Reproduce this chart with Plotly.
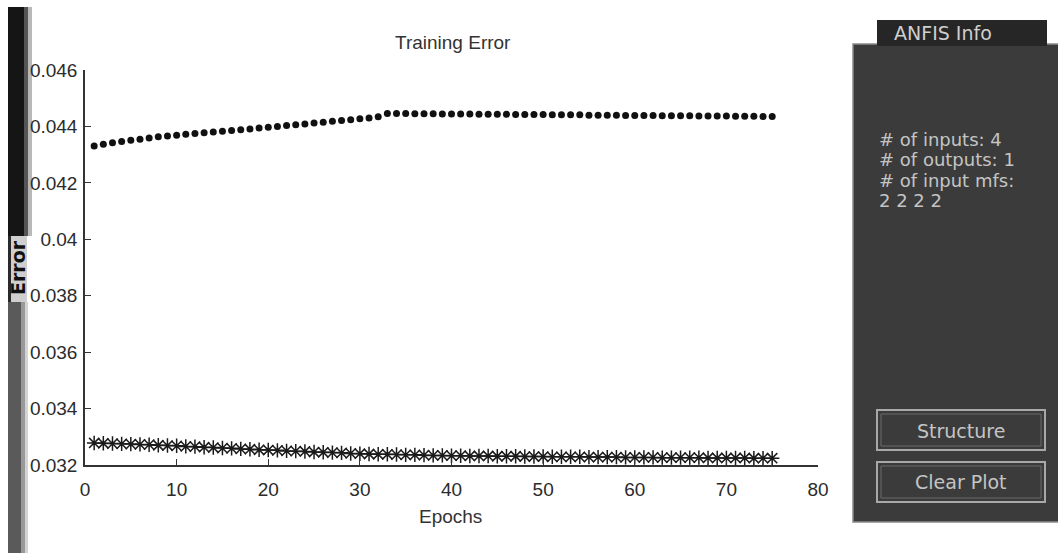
import plotly.graph_objects as go

# ---------------- data ----------------
epochs = list(range(1, 76))

# upper series (dots)
error_dots = [
    0.04331, 0.04337, 0.04342, 0.04347, 0.04351, 0.04355, 0.04359, 0.04363, 0.04366, 0.04369,
    0.04372, 0.04375, 0.04378, 0.04380, 0.04383, 0.04386, 0.04388, 0.04391, 0.04394, 0.04397,
    0.04400, 0.04403, 0.04406, 0.04409, 0.04412, 0.04415, 0.04418, 0.04421, 0.04424, 0.04427,
    0.04430, 0.04434, 0.04446, 0.04446, 0.04446, 0.04445, 0.04445, 0.04445, 0.04444,
    0.04444, 0.04444, 0.04444, 0.04443, 0.04443, 0.04443, 0.04443, 0.04442, 0.04442, 0.04442,
    0.04442, 0.04441, 0.04441, 0.04441, 0.04441, 0.04440, 0.04440, 0.04440, 0.04440, 0.04439,
    0.04439, 0.04439, 0.04439, 0.04438, 0.04438, 0.04438, 0.04438, 0.04437, 0.04437, 0.04437,
    0.04437, 0.04436, 0.04436, 0.04436, 0.04435, 0.04435,
]

# lower series (asterisks)
error_stars = [
    0.03278, 0.03277, 0.03276, 0.03275, 0.03274, 0.03273, 0.03272, 0.03270, 0.03269, 0.03268,
    0.03266, 0.03265, 0.03263, 0.03262, 0.03260, 0.03259, 0.03257, 0.03256, 0.03254, 0.03253,
    0.03252, 0.03250, 0.03249, 0.03248, 0.03246, 0.03245, 0.03244, 0.03243, 0.03241, 0.03240,
    0.03239, 0.03238, 0.03238, 0.03237, 0.03236, 0.03236, 0.03235, 0.03234, 0.03234, 0.03233,
    0.03233, 0.03232, 0.03232, 0.03232, 0.03231, 0.03231, 0.03231, 0.03230, 0.03230, 0.03230,
    0.03229, 0.03229, 0.03229, 0.03229, 0.03228, 0.03228, 0.03228, 0.03228, 0.03227, 0.03227,
    0.03227, 0.03227, 0.03226, 0.03226, 0.03226, 0.03226, 0.03226, 0.03225, 0.03225, 0.03225,
    0.03225, 0.03225, 0.03224, 0.03224, 0.03224,
]

x_ticks = [0, 10, 20, 30, 40, 50, 60, 70, 80]
y_ticks = [0.032, 0.034, 0.036, 0.038, 0.04, 0.042, 0.044, 0.046]
y_tick_text = ["0.032", "0.034", "0.036", "0.038", "0.04", "0.042", "0.044", "0.046"]

title_text = "Training Error"
x_title = "Epochs"
y_title = "Error"
panel_title = "ANFIS Info"
panel_lines = ["# of inputs: 4", "# of outputs: 1", "# of input mfs:", "2 2 2 2"]
button_labels = ["Structure", "Clear Plot"]

# ---------------- layout geometry (pixels) ----------------
W, H = 1058, 553
L, R, T, B = 85, 818, 70, 465


def px(xp, yp):
    return (xp - L) / (R - L), (B - yp) / (B - T)


fig = go.Figure()
fig.add_trace(go.Scatter(
    x=epochs, y=error_dots, mode="markers",
    marker=dict(symbol="circle", size=7, color="#111111"),
    hoverinfo="x+y", showlegend=False,
))
fig.add_trace(go.Scatter(
    x=epochs, y=error_stars, mode="markers",
    marker=dict(symbol="asterisk-open", size=12, color="#1a1a1a",
                line=dict(color="#1a1a1a", width=1.5)),
    hoverinfo="x+y", showlegend=False,
))

shapes = []
annotations = []


def rect(x0, y0, x1, y1, fill, line_color=None, line_width=0, layer="below"):
    a0, b0 = px(x0, y1)
    a1, b1 = px(x1, y0)
    shapes.append(dict(
        type="rect", xref="paper", yref="paper", x0=a0, x1=a1, y0=b0, y1=b1,
        fillcolor=fill, layer=layer,
        line=dict(color=line_color or "rgba(0,0,0,0)", width=line_width),
    ))


# scan shadow strip on the left edge
rect(8, 7, 24, 236, "#151515")
rect(24, 7, 28, 236, "#555555")
rect(28, 7, 32, 236, "#b8b8b8")
rect(8, 236, 11, 302, "#2a2a2a")
rect(11, 236, 27, 302, "#cfcfcf")
rect(8, 302, 21, 553, "#5a5a5a")
rect(21, 302, 25, 553, "#999999")
rect(25, 302, 28, 553, "#d4d4d4")

# ANFIS info panel
rect(853, 44, 1062, 522, "#3b3b3b", "#8a8a8a", 1.5, layer="above")
rect(877, 20, 1047, 46, "#262626", None, 0, layer="above")
# buttons
for (y0, y1) in [(410, 450), (462, 502)]:
    rect(877, y0, 1045, y1, "#3b3b3b", "#a8a8a8", 2, layer="above")
    rect(881, y0 + 4, 1041, y1 - 4, "rgba(0,0,0,0)", "#6a6a6a", 1, layer="above")


def text(xp, yp, s, size, color, family="Liberation Sans", xanchor="center", angle=0, bold=False):
    a, b = px(xp, yp)
    annotations.append(dict(
        x=a, y=b, xref="paper", yref="paper", text=("<b>%s</b>" % s) if bold else s,
        showarrow=False, xanchor=xanchor, yanchor="middle", textangle=angle,
        font=dict(size=size, color=color, family=family),
    ))


text(453, 42, title_text, 19, "#333333")
text(450, 516, x_title, 19, "#333333")
text(18, 268, y_title, 19, "#111111", family="DejaVu Sans", angle=-90, bold=True)

text(943, 33, panel_title, 19, "#cfcfcf", family="DejaVu Sans")
for i, s in enumerate(panel_lines):
    text(877, 139 + 20.5 * i, s, 18, "#c4c4c4", family="DejaVu Sans", xanchor="left")
text(961, 431, button_labels[0], 19, "#c4c4c4", family="DejaVu Sans")
text(961, 482, button_labels[1], 19, "#c4c4c4", family="DejaVu Sans")

axis_font = dict(family="Liberation Sans", size=19, color="#2b2b2b")
fig.update_layout(
    width=W, height=H,
    margin=dict(l=L, r=W - R, t=T, b=H - B, pad=0),
    paper_bgcolor="white", plot_bgcolor="white",
    shapes=shapes, annotations=annotations,
    xaxis=dict(
        range=[0, 80], tickvals=x_ticks, ticktext=[str(v) for v in x_ticks],
        showgrid=False, zeroline=False, showline=True, linecolor="#333333", linewidth=1.5,
        ticks="inside", ticklen=6, tickwidth=1.2, tickcolor="#333333",
        tickfont=axis_font, ticklabelstandoff=6, mirror=False,
    ),
    yaxis=dict(
        range=[0.032, 0.046], tickvals=y_ticks, ticktext=y_tick_text,
        showgrid=False, zeroline=False, showline=True, linecolor="#333333", linewidth=1.5,
        ticks="inside", ticklen=6, tickwidth=1.2, tickcolor="#333333",
        tickfont=axis_font, ticklabelstandoff=2, mirror=False,
    ),
)

fig.write_html(
    "out.html",
    config={"displayModeBar": False},
    post_script="document.body.style.margin='0';document.body.style.overflow='hidden';",
)
